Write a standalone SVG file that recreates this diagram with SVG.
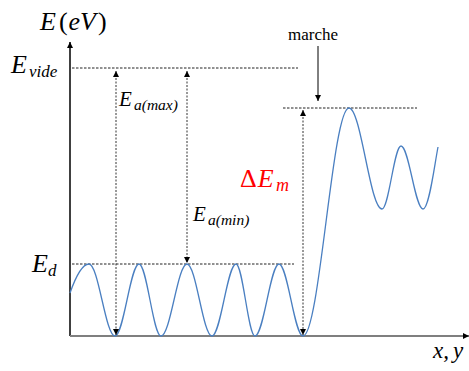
<svg xmlns="http://www.w3.org/2000/svg" width="469" height="371" viewBox="0 0 469 371">
<style>
  text { font-family: "Liberation Serif", "DejaVu Serif", serif; fill: #000; }
  .i { font-style: italic; }
  .lvl { stroke: #222; stroke-width: 1; stroke-dasharray: 2.5 1.5; fill: none; }
  .dar { stroke: #333; stroke-width: 1; stroke-dasharray: 2 1.5; fill: none; }
  .wave { stroke: #4a7fc1; stroke-width: 1.3; fill: none; }
  .red { fill: #ff0000; }
</style>
<defs>
  <marker id="ah" viewBox="0 0 10 10" refX="10" refY="5" markerUnits="userSpaceOnUse" markerWidth="6" markerHeight="6" orient="auto-start-reverse">
    <path d="M0,0 L10,5 L0,10 z" fill="#000" stroke="none"/>
  </marker>
</defs>
<rect width="469" height="371" fill="#fff"/>

<g id="axes">
  <line x1="70" y1="336" x2="70" y2="42" stroke="#000" stroke-width="1.5" marker-end="url(#ah)"/>
  <line x1="70" y1="336" x2="469" y2="336" stroke="#7f7f7f" stroke-width="2" marker-end="url(#ah)"/>
</g>

<g id="levels">
  <line id="evide-level" class="lvl" x1="72" y1="68" x2="298" y2="68"/>
  <line id="ed-level" class="lvl" x1="72" y1="264" x2="294" y2="264"/>
  <line id="marche-level" class="lvl" x1="283" y1="108" x2="417" y2="108"/>
</g>

<g id="wave">
  <path class="wave" d="M70,293 C76,276 82,264 89,264
    C98.5,264 105.5,336 115,336
    C123.7,336 130.3,264 139,264
    C147,264 153,336 161,336
    C170.5,336 177.5,264 187,264
    C196.1,264 202.9,336 212,336
    C220.7,336 227.3,264 236,264
    C242.9,264 248.1,336 255,336
    C263.7,336 270.3,264 279,264
    C287.7,264 294.3,336 303,336
    C319.7,336 332.3,108 349,108
    C361,108 370,209 382,209
    C388.9,209 394.1,146 401,146
    C409,146 415,209 423,209
    C429,209 434,168 438,147"/>
</g>

<g id="connectors">
  <line id="arrow-eamax" class="dar" x1="116" y1="71" x2="116" y2="335" marker-start="url(#ah)" marker-end="url(#ah)"/>
  <line id="arrow-eamin" class="dar" x1="187" y1="71" x2="187" y2="263" marker-start="url(#ah)" marker-end="url(#ah)"/>
  <line id="arrow-dem" class="dar" x1="303" y1="110" x2="303" y2="335" marker-start="url(#ah)" marker-end="url(#ah)"/>
  <line id="arrow-marche" x1="318" y1="46" x2="318" y2="101" stroke="#000" stroke-width="1" marker-end="url(#ah)"/>
</g>

<g id="label-EeV">
  <text x="40" y="30" font-size="26"><tspan class="i">E</tspan><tspan dx="3">(</tspan><tspan class="i" dx="1">eV</tspan><tspan dx="2">)</tspan></text>
</g>
<g id="label-Evide">
  <text class="i" x="11" y="73" font-size="26">E</text>
  <text class="i" x="29" y="77" font-size="17">vide</text>
</g>
<g id="label-Ed">
  <text class="i" x="32" y="272" font-size="26">E</text>
  <text class="i" x="48" y="276" font-size="17">d</text>
</g>
<g id="label-Eamax">
  <text class="i" x="119" y="106" font-size="21">E</text>
  <text class="i" x="134" y="110" font-size="15.5">a(max)</text>
</g>
<g id="label-Eamin">
  <text class="i" x="193" y="221" font-size="21">E</text>
  <text class="i" x="208" y="225" font-size="15.5">a(min)</text>
</g>
<g id="label-DEm">
  <text class="red" x="240" y="187" font-size="26">Δ<tspan class="i" dx="1">E</tspan></text>
  <text class="i red" x="276" y="191" font-size="18">m</text>
</g>
<g id="label-marche">
  <text x="288" y="40" font-size="17">marche</text>
</g>
<g id="label-xy">
  <text class="i" x="433" y="358" font-size="23">x,<tspan dx="4">y</tspan></text>
</g>
</svg>
